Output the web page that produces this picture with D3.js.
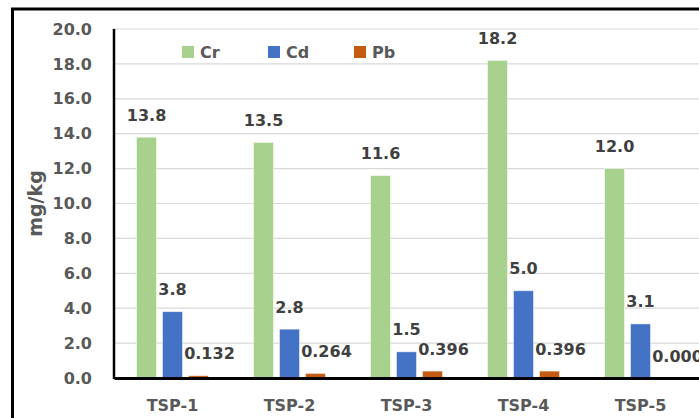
<!DOCTYPE html>
<html>
<head>
<meta charset="utf-8">
<script src="https://cdn.jsdelivr.net/npm/d3@7"></script>
<style>
  body { margin: 0; background: #fff; }
  text { font-family: "DejaVu Sans", sans-serif; font-weight: bold; }
</style>
</head>
<body>
<script>
// chart data
var categories = ['TSP-1', 'TSP-2', 'TSP-3', 'TSP-4', 'TSP-5'];
var seriesNames = ['Cr', 'Cd', 'Pb'];
var crValues = [13.8, 13.5, 11.6, 18.2, 12.0];
var cdValues = [3.8, 2.8, 1.5, 5.0, 3.1];
var pbValues = [0.132, 0.264, 0.396, 0.396, 0.000];
var yTicks = [0, 2, 4, 6, 8, 10, 12, 14, 16, 18, 20];

var seriesColors = ['#a9d18e', '#4472c4', '#c55a11'];
var seriesDecimals = [1, 1, 3];
var labelShift = [0, 0, 11];

var width = 699, height = 418;
var plotLeft = 114, plotRight = 699, plotTop = 29, plotBottom = 378;

var series = seriesNames.map(function(name, i) {
    return { name: name, values: [crValues, cdValues, pbValues][i], color: seriesColors[i], decimals: seriesDecimals[i], shift: labelShift[i] };
});

var svg = d3.select('body')
    .append('svg')
    .attr('width', width)
    .attr('height', height);

// outer frame (cropped on the right and bottom)
svg.append('rect')
    .attr('x', 12.5)
    .attr('y', 9)
    .attr('width', 900)
    .attr('height', 600)
    .attr('fill', 'none')
    .attr('stroke', '#000')
    .attr('stroke-width', 3);

var x0 = d3.scaleBand()
    .domain(categories)
    .range([plotLeft, plotRight])
    .paddingInner(0.385)
    .paddingOuter(0.1925);

var x1 = d3.scaleBand()
    .domain(seriesNames)
    .range([0, x0.bandwidth()])
    .paddingInner(0.23);

var y = d3.scaleLinear()
    .domain([0, 20])
    .range([plotBottom, plotTop]);

// gridlines
svg.append('g')
    .selectAll('line')
    .data(yTicks.slice(1))
    .enter()
    .append('line')
    .attr('x1', plotLeft)
    .attr('x2', plotRight)
    .attr('y1', function(d) { return y(d); })
    .attr('y2', function(d) { return y(d); })
    .attr('stroke', '#d9d9d9')
    .attr('stroke-width', 1.2);

// y axis labels
var yAxis = d3.axisLeft(y)
    .tickValues(yTicks)
    .tickFormat(d3.format('.1f'))
    .tickSize(0)
    .tickPadding(22);

var gy = svg.append('g')
    .attr('transform', 'translate(' + plotLeft + ',0)')
    .call(yAxis);
gy.select('.domain').remove();
gy.selectAll('text')
    .attr('fill', '#595959')
    .style('font-size', '16px');

// bars
var groups = svg.append('g')
    .selectAll('g')
    .data(series)
    .enter()
    .append('g')
    .attr('fill', function(d) { return d.color; });

groups.selectAll('rect')
    .data(function(s) {
        return s.values.map(function(v, i) { return { s: s, cat: categories[i], v: v }; });
    })
    .enter()
    .append('rect')
    .attr('x', function(d) { return x0(d.cat) + x1(d.s.name); })
    .attr('y', function(d) { return y(d.v); })
    .attr('width', x1.bandwidth())
    .attr('height', function(d) { return y(0) - y(d.v); })
    .attr('stroke', '#ffffff')
    .attr('stroke-opacity', 0.6)
    .attr('stroke-width', 0.8);

// data labels
groups.selectAll('text')
    .data(function(s) {
        return s.values.map(function(v, i) { return { s: s, cat: categories[i], v: v }; });
    })
    .enter()
    .append('text')
    .attr('x', function(d) { return x0(d.cat) + x1(d.s.name) + x1.bandwidth() / 2 + d.s.shift; })
    .attr('y', function(d) { return y(d.v) - 16.5; })
    .attr('text-anchor', 'middle')
    .attr('fill', '#404040')
    .style('font-size', '16px')
    .text(function(d) { return d.v.toFixed(d.s.decimals); });

// axis lines
svg.append('line')
    .attr('x1', plotLeft).attr('x2', plotLeft)
    .attr('y1', plotTop).attr('y2', plotBottom + 1)
    .attr('stroke', '#000')
    .attr('stroke-width', 2.5);

var xAxis = d3.axisBottom(x0)
    .tickSize(0)
    .tickPadding(22);

var gx = svg.append('g')
    .attr('transform', 'translate(0,' + plotBottom + ')')
    .call(xAxis);
gx.select('.domain')
    .attr('stroke', '#000')
    .attr('stroke-width', 3);
gx.selectAll('text')
    .attr('fill', '#595959')
    .style('font-size', '16px');

// axis title
svg.append('text')
    .attr('transform', 'translate(42,' + ((plotTop + plotBottom) / 2) + ') rotate(-90)')
    .attr('text-anchor', 'middle')
    .attr('fill', '#595959')
    .style('font-size', '19px')
    .text('mg/kg');

// legend
var legend = svg.append('g')
    .selectAll('g')
    .data(series)
    .enter()
    .append('g')
    .attr('transform', function(d, i) { return 'translate(' + (182 + i * 86) + ',46)'; });

legend.append('rect')
    .attr('width', 12)
    .attr('height', 12)
    .attr('fill', function(d) { return d.color; });

legend.append('text')
    .attr('x', 18)
    .attr('y', 12)
    .attr('fill', '#595959')
    .style('font-size', '16px')
    .text(function(d) { return d.name; });
</script>
</body>
</html>
